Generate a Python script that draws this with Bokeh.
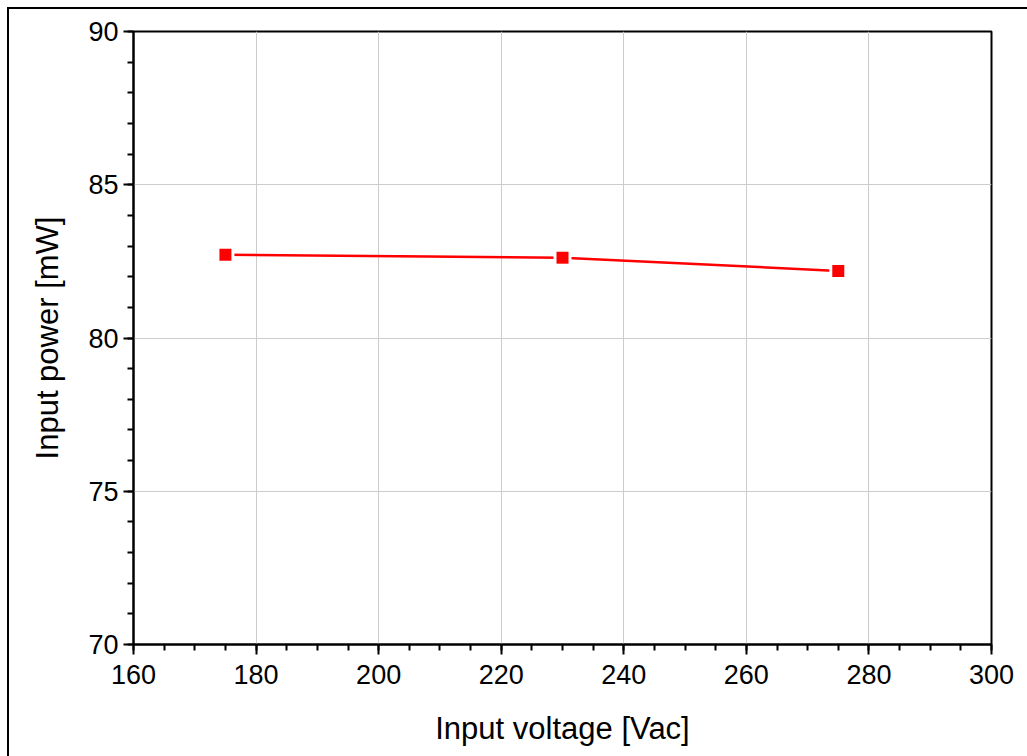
from bokeh.plotting import figure
from bokeh.embed import file_html
from bokeh.resources import INLINE
from bokeh.models import FixedTicker, Range1d

voltage = [175, 230, 275]
power = [82.72, 82.62, 82.19]
x_ticks = [160, 180, 200, 220, 240, 260, 280, 300]
y_ticks = [70, 75, 80, 85, 90]

p = figure(width=1030, height=760, output_backend="svg", toolbar_location=None,
           x_range=Range1d(160, 300), y_range=Range1d(70, 90),
           min_border_left=124, min_border_right=48, min_border_top=22, min_border_bottom=125,
           margin=(7, 0, 0, 7),
           styles={"border-left": "2px solid black", "border-top": "2px solid black"})
p.background_fill_color = "white"
p.border_fill_color = "white"
p.outline_line_color = "black"
p.outline_line_width = 2

p.xaxis.ticker = FixedTicker(ticks=x_ticks, minor_ticks=list(range(160, 301, 5)))
p.yaxis.ticker = FixedTicker(ticks=y_ticks, minor_ticks=list(range(70, 91, 1)))

for ax in (p.xaxis[0], p.yaxis[0]):
    ax.axis_line_width = 2
    ax.axis_line_color = "black"
    ax.major_tick_line_width = 2
    ax.minor_tick_line_width = 2
    ax.major_tick_out = 10
    ax.major_tick_in = 0
    ax.minor_tick_out = 6
    ax.minor_tick_in = 0
    ax.major_label_text_font = "Liberation Sans"
    ax.major_label_text_font_size = "27px"
    ax.major_label_text_color = "black"
    ax.axis_label_text_font = "Liberation Sans"
    ax.axis_label_text_font_size = "31px"
    ax.axis_label_text_font_style = "normal"
    ax.axis_label_text_color = "black"

p.xaxis.axis_label = "Input voltage [Vac]"
p.yaxis.axis_label = "Input power [mW]"
p.xaxis.major_label_standoff = 10
p.yaxis.major_label_standoff = 5
p.xaxis.axis_label_standoff = 24
p.yaxis.axis_label_standoff = 20

p.grid.grid_line_color = "#cccccc"
p.grid.grid_line_width = 1

p.line(voltage, power, line_color="red", line_width=2.5)
p.scatter(voltage, power, marker="square", size=18, fill_color="white", line_color=None)
p.scatter(voltage, power, marker="square", size=12, fill_color="red", line_color=None)

html = file_html(p, INLINE)
html = html.replace("<head>", "<head><style>html,body{overflow:hidden;margin:0;}</style>", 1)
open("out.html", "w").write(html)
